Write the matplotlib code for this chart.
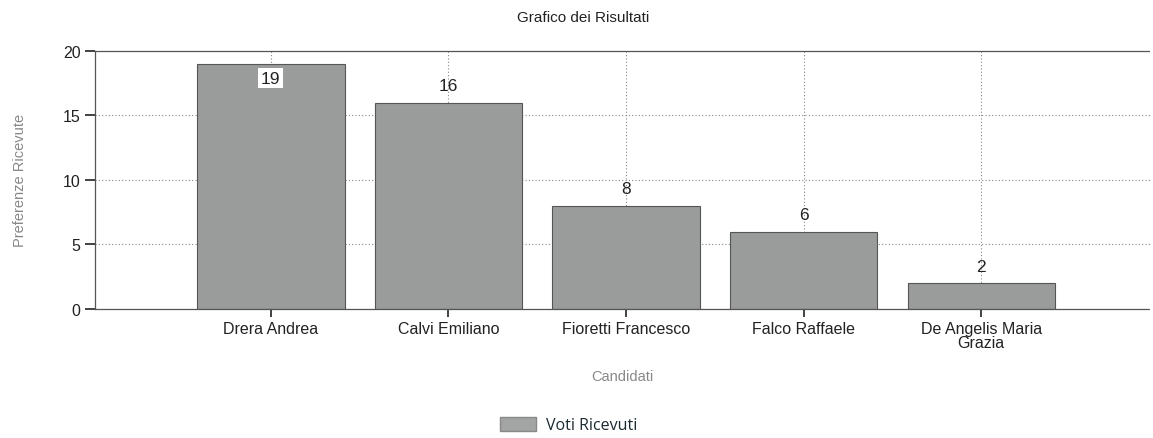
import matplotlib
matplotlib.use("Agg")
import matplotlib.pyplot as plt
from matplotlib.patches import Patch

plt.rcParams["font.family"] = ["Liberation Sans", "DejaVu Sans"]

categories = ["Drera Andrea", "Calvi Emiliano", "Fioretti Francesco", "Falco Raffaele", "De Angelis Maria\nGrazia"]
values = [19, 16, 8, 6, 2]
yticks = [0, 5, 10, 15, 20]

fig = plt.figure(figsize=(11.53, 4.39), dpi=100)
ax = fig.add_axes([0.0824, 0.294, 0.915, 0.5877])

x = list(range(len(categories)))
bars = ax.bar(x, values, width=0.83, color="#9a9c9c", edgecolor="#555555", linewidth=0.8, zorder=2)

ax.set_xlim(-0.99, 4.95)
ax.set_ylim(0, 20)
ax.set_yticks(yticks)
ax.set_xticks(x)
ax.set_xticklabels(categories, fontsize=11.5, color="#222222", linespacing=0.85)
ax.tick_params(axis="y", length=7, width=1.2, labelsize=11.5, colors="#222222", direction="out")
ax.tick_params(axis="x", length=6, width=1.2, labelsize=11.5, colors="#222222", direction="out", pad=3)

ax.grid(True, linestyle=(0, (1, 2)), color="#888888", linewidth=0.8, zorder=0)
ax.set_axisbelow(True)
for side in ["top", "right", "bottom", "left"]:
    ax.spines[side].set_linestyle((0, (1, 1)))
    ax.spines[side].set_color("#555555")
    ax.spines[side].set_linewidth(0.9)
ax.spines["right"].set_visible(False)

for xi, v in zip(x, values):
    if v >= 19:
        ax.text(xi, v - 1.1, str(v), ha="center", va="center", fontsize=12.5, color="#222222",
                bbox=dict(facecolor="white", edgecolor="none", pad=2), zorder=3)
    else:
        ax.text(xi, v + 1.3, str(v), ha="center", va="center", fontsize=12.5, color="#222222", zorder=3)

ax.set_ylabel("Preferenze Ricevute", fontsize=10.5, color="#888888", labelpad=26)
ax.set_xlabel("Candidati", fontsize=10.5, color="#888888", labelpad=14)
fig.text(0.506, 0.958, "Grafico dei Risultati", ha="center", va="center", fontsize=11, color="#222222")

handles = [Patch(facecolor="#a3a5a5", edgecolor="#888888", label="Voti Ricevuti")]
fig.legend(handles=handles, loc="center", bbox_to_anchor=(0.493, 0.03), frameon=False,
           prop={"family": ["Open Sans", "DejaVu Sans"], "size": 11.5}, labelcolor="#1a2a30",
           handlelength=2.3, handleheight=1.0, handletextpad=0.6)

fig.savefig("out.png", dpi=100)
